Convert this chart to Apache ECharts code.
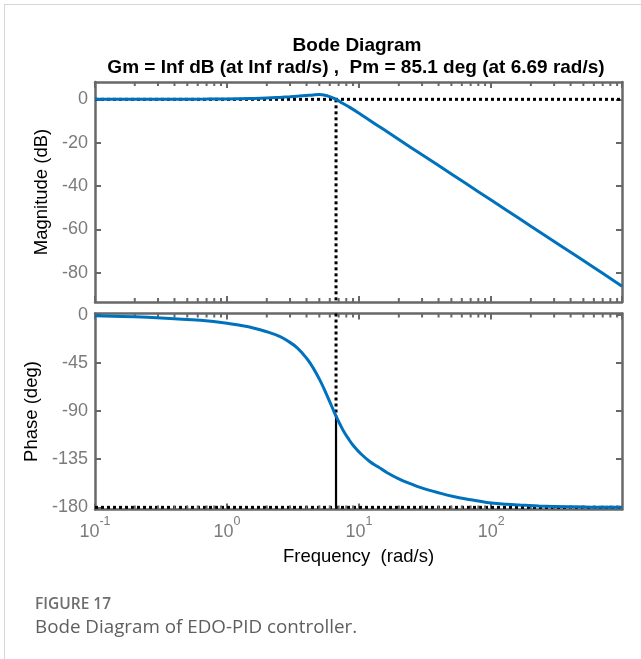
<!DOCTYPE html>
<html>
<head>
<meta charset="utf-8">
<script src="https://cdn.jsdelivr.net/npm/echarts@6/dist/echarts.min.js"></script>
<style>
html, body { margin: 0; padding: 0; background: #fff; }
#main { position: absolute; left: 0; top: 0; width: 641px; height: 659px; }
#frame { position: absolute; left: 4px; top: 4px; width: 637px; height: 655px;
  border-top: 1px solid #d6d6d6; border-left: 1px solid #d6d6d6; pointer-events: none; }
</style>
</head>
<body>
<div id="main"></div>
<div id="frame"></div>
<script>
// magnitude curve (rad/s, dB)
const magFreq = [0.1, 0.2, 0.4, 0.7, 1, 1.5, 2, 2.5, 3, 3.5, 4, 4.5, 5, 5.5, 6, 6.69, 7.5, 8.5, 10, 12, 15, 20, 30, 50, 80, 130, 200, 350, 600, 980];
const magDb = [0, 0, 0.05, 0.1, 0.2, 0.4, 0.6, 0.9, 1.2, 1.5, 1.8, 2.05, 2.2, 1.9, 1.2, 0, -1.8, -3.7, -6.4, -9.6, -13.5, -18.5, -25.6, -34.4, -42.6, -51.0, -58.5, -68.2, -77.6, -86.2];
// phase curve (rad/s, deg)
const phaseFreq = [0.1, 0.16, 0.25, 0.4, 0.63, 1, 1.25, 1.58, 2, 2.5, 2.83, 3.4, 4.02, 4.5, 5.06, 5.6, 6.1, 6.69, 7.2, 7.6, 8.3, 9.06, 10.5, 12.1, 14, 16.2, 20, 25, 29, 40, 51.8, 70, 92.7, 130, 166, 230, 296, 531, 980];
const phaseDeg = [-1.1, -1.7, -2.6, -3.9, -5.4, -8, -10, -12.5, -16, -20.3, -24, -31, -41, -50, -61.5, -73, -83.5, -94.9, -102.9, -108.4, -115.9, -122.4, -130.9, -137.4, -142.4, -147.4, -153.4, -158.4, -161.4, -166.4, -169.9, -172.9, -175.4, -177.1, -177.9, -178.7, -179.1, -179.7, -180];

// crossover marker (from title: Pm = 85.1 deg at 6.69 rad/s)
const wc = 6.69;
const phaseAtWc = -94.9;

const xRange = [0.1, 980];
const magRange = [-93.5, 8];
const phaseRange = [-182, 1];
const magTicks = [0, -20, -40, -60, -80];
const phaseTicks = [0, -45, -90, -135, -180];
const minorTickFreq = [0.2, 0.3, 0.4, 0.5, 0.6, 0.7, 0.8, 0.9,
  2, 3, 4, 5, 6, 7, 8, 9,
  20, 30, 40, 50, 60, 70, 80, 90,
  200, 300, 400, 500, 600, 700, 800, 900];

const axisColor = '#686868';
const labelColor = '#7b7b7b';
const font = '"Liberation Sans", Arial, sans-serif';
const blue = '#0072BD';

function xAx(gridIndex, position, showLabel) {
  return {
    type: 'log', logBase: 10, gridIndex: gridIndex, position: position,
    min: xRange[0], max: xRange[1],
    axisLine: { show: true, onZero: false, lineStyle: { color: axisColor, width: 2.5 } },
    axisTick: { show: true, inside: true, length: 6, lineStyle: { color: axisColor, width: 2 } },
    splitLine: { show: false },
    minorTick: { show: false },
    name: showLabel ? 'Frequency  (rad/s)' : '',
    nameLocation: 'middle', nameGap: 38,
    nameTextStyle: { color: '#000', fontSize: 18.5, fontFamily: font },
    axisLabel: {
      show: showLabel, margin: 6, showMaxLabel: false,
      formatter: function (v) {
        const e = Math.round(Math.log10(v));
        return '{b|10}{e|' + e + '}';
      },
      rich: {
        b: { fontSize: 18, color: labelColor, fontFamily: font, verticalAlign: 'bottom', lineHeight: 26 },
        e: { fontSize: 12.5, color: labelColor, fontFamily: font, verticalAlign: 'top', lineHeight: 26 }
      }
    }
  };
}

function yAx(gridIndex, position, range, ticks, name, nameGap) {
  const left = position === 'left';
  return {
    type: 'value', gridIndex: gridIndex, position: position,
    min: range[0], max: range[1],
    axisLine: { show: true, onZero: false, lineStyle: { color: axisColor, width: 2.5 } },
    axisTick: { show: true, inside: true, length: 6, customValues: ticks, lineStyle: { color: axisColor, width: 2 } },
    splitLine: { show: false },
    axisLabel: { show: left, customValues: ticks, margin: 7, fontSize: 18, color: labelColor, fontFamily: font },
    name: left ? name : '',
    nameLocation: 'middle', nameGap: nameGap,
    nameTextStyle: { color: '#000', fontSize: 18.5, fontFamily: font }
  };
}

function minorTicks(xi, yi, range) {
  return {
    type: 'custom', xAxisIndex: xi, yAxisIndex: yi, silent: true, clip: false, z: 5,
    data: minorTickFreq.map(f => [f, 0]),
    encode: { x: 0, y: 1 },
    renderItem: function (params, api) {
      const f = api.value(0);
      const top = api.coord([f, range[1]]);
      const bot = api.coord([f, range[0]]);
      const st = { stroke: axisColor, lineWidth: 2 };
      return {
        type: 'group', children: [
          { type: 'line', shape: { x1: top[0], y1: top[1], x2: top[0], y2: top[1] + 4 }, style: st },
          { type: 'line', shape: { x1: bot[0], y1: bot[1], x2: bot[0], y2: bot[1] - 4 }, style: st }
        ]
      };
    }
  };
}

function refLine(xi, yi, data, dotted) {
  return {
    type: 'line', xAxisIndex: xi, yAxisIndex: yi, data: data, symbol: 'none', silent: true, z: 3,
    lineStyle: { color: '#000', width: dotted ? 3 : 2.2, type: dotted ? [3, 3] : 'solid', cap: 'butt' }
  };
}

const chart = echarts.init(document.getElementById('main'), null, { renderer: 'canvas' });
chart.setOption({
  animation: false,
  backgroundColor: 'transparent',
  grid: [
    { left: 95, top: 82, width: 527, height: 220 },
    { left: 95, top: 313.5, width: 527, height: 196 }
  ],
  xAxis: [
    xAx(0, 'bottom', false),
    xAx(0, 'top', false),
    xAx(1, 'bottom', true),
    xAx(1, 'top', false)
  ],
  yAxis: [
    yAx(0, 'left', magRange, magTicks, 'Magnitude (dB)', 37),
    yAx(0, 'right', magRange, magTicks, '', 0),
    yAx(1, 'left', phaseRange, phaseTicks, 'Phase (deg)', 47),
    yAx(1, 'right', phaseRange, phaseTicks, '', 0)
  ],
  graphic: [
    { type: 'text', x: 357, y: 46, style: { text: 'Bode Diagram', font: 'bold 19px ' + font, fill: '#000', align: 'center', verticalAlign: 'middle', textAlign: 'center', textVerticalAlign: 'middle' } },
    { type: 'text', x: 356, y: 68, style: { text: 'Gm = Inf dB (at Inf rad/s) ,  Pm = 85.1 deg (at 6.69 rad/s)', font: 'bold 19px ' + font, fill: '#000', align: 'center', verticalAlign: 'middle', textAlign: 'center', textVerticalAlign: 'middle' } },
    { type: 'text', x: 35, y: 605, style: { text: 'FIGURE 17', font: '600 15.5px "Open Sans", sans-serif', fill: '#6e6e6e', verticalAlign: 'middle', textVerticalAlign: 'middle' } },
    { type: 'text', x: 35, y: 628, style: { text: 'Bode Diagram of EDO-PID controller.', font: '18.8px "Open Sans", sans-serif', fill: '#5e5e5e', verticalAlign: 'middle', textVerticalAlign: 'middle' } }
  ],
  series: [
    refLine(0, 0, [[xRange[0], 0], [xRange[1], 0]], true),
    refLine(0, 0, [[wc, 0], [wc, magRange[0]]], true),
    refLine(2, 2, [[xRange[0], -180], [xRange[1], -180]], true),
    refLine(2, 2, [[wc, phaseRange[1]], [wc, phaseAtWc]], true),
    refLine(2, 2, [[wc, phaseAtWc], [wc, -180]], false),
    minorTicks(0, 0, magRange),
    minorTicks(2, 2, phaseRange),
    {
      type: 'line', xAxisIndex: 0, yAxisIndex: 0, z: 10, symbol: 'none',
      smooth: 0.4,
      lineStyle: { color: blue, width: 3 },
      data: magFreq.map((f, i) => [f, magDb[i]])
    },
    {
      type: 'line', xAxisIndex: 2, yAxisIndex: 2, z: 10, symbol: 'none',
      smooth: 0.4,
      lineStyle: { color: blue, width: 3 },
      data: phaseFreq.map((f, i) => [f, phaseDeg[i]])
    }
  ]
});
</script>
</body>
</html>
